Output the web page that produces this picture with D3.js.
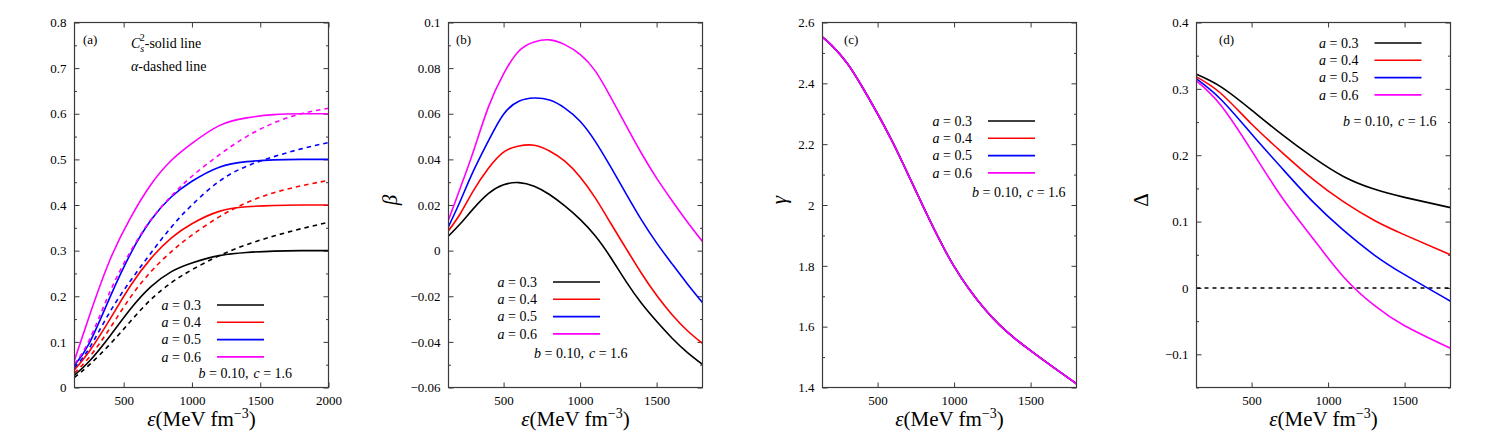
<!DOCTYPE html>
<html>
<head>
<meta charset="utf-8">
<script src="https://cdn.jsdelivr.net/npm/d3@7"></script>
<style>
  body { margin: 0; background: #fff; }
</style>
</head>
<body>
<div id="chart"></div>
<script>
// ---- data ----
const aValues = ['0.3', '0.4', '0.5', '0.6'];

// (a) sound speed squared (solid) and alpha (dashed)
const epsA = [140, 250, 400, 550, 700, 850, 1000, 1200, 1400, 1600, 1800, 2000];
const cs2_a03 = [0.027, 0.058, 0.113, 0.172, 0.221, 0.254, 0.273, 0.289, 0.296, 0.299, 0.300, 0.300];
const cs2_a04 = [0.039, 0.080, 0.150, 0.223, 0.283, 0.328, 0.359, 0.386, 0.396, 0.399, 0.400, 0.400];
const cs2_a05 = [0.049, 0.098, 0.198, 0.293, 0.367, 0.418, 0.452, 0.483, 0.495, 0.499, 0.500, 0.500];
const cs2_a06 = [0.060, 0.158, 0.280, 0.372, 0.445, 0.498, 0.535, 0.574, 0.591, 0.598, 0.600, 0.600];
const alpha_a03 = [0.022, 0.050, 0.095, 0.145, 0.193, 0.230, 0.258, 0.289, 0.313, 0.332, 0.348, 0.362];
const alpha_a04 = [0.032, 0.067, 0.130, 0.198, 0.254, 0.298, 0.334, 0.374, 0.405, 0.427, 0.442, 0.454];
const alpha_a05 = [0.044, 0.087, 0.166, 0.234, 0.295, 0.352, 0.400, 0.452, 0.485, 0.506, 0.523, 0.537];
const alpha_a06 = [0.052, 0.105, 0.210, 0.298, 0.368, 0.420, 0.463, 0.510, 0.550, 0.580, 0.600, 0.612];

// (b) beta
const epsB = [140, 220, 300, 400, 500, 600, 700, 800, 900, 1000, 1100, 1200, 1300, 1400, 1500, 1600, 1700, 1800];
const beta_a03 = [0.0064, 0.0120, 0.0182, 0.0250, 0.0289, 0.0298, 0.0282, 0.0246, 0.0196, 0.0137, 0.0064, -0.0030, -0.0135, -0.0230, -0.0310, -0.0383, -0.0446, -0.0499];
const beta_a04 = [0.0087, 0.0165, 0.0260, 0.0360, 0.0432, 0.0459, 0.0462, 0.0437, 0.0392, 0.0323, 0.0230, 0.0120, 0.0010, -0.0098, -0.0196, -0.0280, -0.0350, -0.0407];
const beta_a05 = [0.0105, 0.0222, 0.0345, 0.0480, 0.0598, 0.0655, 0.0669, 0.0660, 0.0625, 0.0567, 0.0478, 0.0367, 0.0250, 0.0136, 0.0034, -0.0057, -0.0145, -0.0228];
const beta_a06 = [0.0134, 0.0280, 0.0430, 0.0628, 0.0775, 0.0875, 0.0915, 0.0924, 0.0903, 0.0860, 0.0787, 0.0673, 0.0549, 0.0428, 0.0318, 0.0220, 0.0127, 0.0040];

// (c) gamma (the four curves coincide)
const epsC = [140, 200, 300, 400, 500, 600, 700, 800, 900, 1000, 1100, 1200, 1300, 1400, 1500, 1600, 1700, 1800];
const gamma_all = [2.552, 2.525, 2.467, 2.388, 2.300, 2.205, 2.100, 1.993, 1.890, 1.798, 1.722, 1.658, 1.604, 1.560, 1.521, 1.484, 1.448, 1.412];

// (d) Delta
const epsD = [140, 300, 500, 700, 900, 1100, 1300, 1500, 1800];
const delta_a03 = [0.322, 0.303, 0.268, 0.231, 0.197, 0.168, 0.149, 0.1365, 0.121];
const delta_a04 = [0.318, 0.293, 0.247, 0.204, 0.164, 0.130, 0.102, 0.080, 0.050];
const delta_a05 = [0.315, 0.284, 0.232, 0.180, 0.130, 0.087, 0.050, 0.020, -0.020];
const delta_a06 = [0.312, 0.275, 0.207, 0.136, 0.075, 0.017, -0.026, -0.057, -0.091];

// axis ticks
const xTicksA = [500, 1000, 1500, 2000];
const xTicksBCD = [500, 1000, 1500];
const yTicksA = [0, 0.1, 0.2, 0.3, 0.4, 0.5, 0.6, 0.7, 0.8];
const yTicksB = [-0.06, -0.04, -0.02, 0, 0.02, 0.04, 0.06, 0.08, 0.1];
const yTicksC = [1.4, 1.6, 1.8, 2, 2.2, 2.4, 2.6];
const yTicksD = [-0.1, 0, 0.1, 0.2, 0.3, 0.4];

// ---- layout ----
const W = 1495, H = 436;
const plotTop = 22.5, pw = 254, ph = 365;
const colors = ['#000000', '#ff0000', '#0000ff', '#ff00ff'];
const serif = '"Liberation Serif", "Times New Roman", Tinos, "DejaVu Serif", serif';

const svg = d3.select('#chart').append('svg')
    .attr('width', W)
    .attr('height', H)
    .style('font-family', serif);

const fmt = v => String(+v.toFixed(3)).replace('-', '\u2212');

const panels = [
    {
        id: 'a', left: 74.5, xDomain: [140, 2000], xTicks: xTicksA,
        yDomain: [0, 0.8], yTicks: yTicksA, yMinorStep: 0.05,
        series: [
            { xs: epsA, ys: cs2_a03, c: 0 }, { xs: epsA, ys: cs2_a04, c: 1 },
            { xs: epsA, ys: cs2_a05, c: 2 }, { xs: epsA, ys: cs2_a06, c: 3 },
            { xs: epsA, ys: alpha_a03, c: 0, dash: true }, { xs: epsA, ys: alpha_a04, c: 1, dash: true },
            { xs: epsA, ys: alpha_a05, c: 2, dash: true }, { xs: epsA, ys: alpha_a06, c: 3, dash: true }
        ],
        tag: { x: 8.5, y: 21.5 },
        legend: { x: 87, y: 282.5, bx: 124, by: 355 },
        ylabel: null
    },
    {
        id: 'b', left: 448.5, xDomain: [140, 1800], xTicks: xTicksBCD,
        yDomain: [-0.06, 0.1], yTicks: yTicksB, yMinorStep: 0.01,
        series: [
            { xs: epsB, ys: beta_a03, c: 0 }, { xs: epsB, ys: beta_a04, c: 1 },
            { xs: epsB, ys: beta_a05, c: 2 }, { xs: epsB, ys: beta_a06, c: 3 }
        ],
        tag: { x: 7.5, y: 21.5 },
        legend: { x: 49, y: 259.5, bx: 85.5, by: 335 },
        ylabel: { text: '\u03b2', italic: true, x: -58.5 }
    },
    {
        id: 'c', left: 822.5, xDomain: [140, 1800], xTicks: xTicksBCD,
        yDomain: [1.4, 2.6], yTicks: yTicksC, yMinorStep: 0.1,
        series: [
            { xs: epsC, ys: gamma_all, c: 0 }, { xs: epsC, ys: gamma_all, c: 1 },
            { xs: epsC, ys: gamma_all, c: 2 }, { xs: epsC, ys: gamma_all, c: 3 }
        ],
        tag: { x: 21.5, y: 21.5 },
        legend: { x: 110, y: 98.5, bx: 149.5, by: 174 },
        ylabel: { text: '\u03b3', italic: true, x: -43.5 }
    },
    {
        id: 'd', left: 1196.5, xDomain: [140, 1800], xTicks: xTicksBCD,
        yDomain: [-0.15, 0.4], yTicks: yTicksD, yMinorStep: 0.05,
        series: [
            { xs: epsD, ys: delta_a03, c: 0 }, { xs: epsD, ys: delta_a04, c: 1 },
            { xs: epsD, ys: delta_a05, c: 2 }, { xs: epsD, ys: delta_a06, c: 3 }
        ],
        tag: { x: 22.5, y: 21.5 },
        legend: { x: 122.5, y: 20.5, bx: 146.5, by: 103 },
        ylabel: { text: '\u0394', italic: false, x: -55.5 },
        zeroLine: true
    }
];

panels.forEach(p => {
    const g = svg.append('g').attr('transform', `translate(${p.left},${plotTop})`);
    const x = d3.scaleLinear().domain(p.xDomain).range([0, pw]);
    const y = d3.scaleLinear().domain(p.yDomain).range([ph, 0]);

    // minor y ticks between the majors
    const yMinor = d3.range(p.yDomain[0], p.yDomain[1] + 1e-9, p.yMinorStep)
        .filter(v => !p.yTicks.some(t => Math.abs(t - v) < 1e-9));

    // axes, ticks pointing inwards on all four sides
    const styleAxis = sel => {
        sel.attr('font-family', null).attr('font-size', null);
        sel.select('.domain').remove();
        sel.selectAll('line').attr('stroke', '#3a3a3a');
        sel.selectAll('text')
            .style('font-family', serif)
            .style('font-size', '13px')
            .attr('fill', '#000');
    };
    g.append('g').attr('transform', `translate(0,${ph})`)
        .call(d3.axisBottom(x).tickValues(p.xTicks).tickSize(-5).tickPadding(8).tickFormat(d3.format('d')))
        .call(styleAxis);
    g.append('g')
        .call(d3.axisTop(x).tickValues(p.xTicks).tickSize(-5).tickFormat(''))
        .call(styleAxis);
    g.append('g')
        .call(d3.axisLeft(y).tickValues(p.yTicks).tickSize(-5).tickPadding(8).tickFormat(fmt))
        .call(styleAxis);
    g.append('g').attr('transform', `translate(${pw},0)`)
        .call(d3.axisRight(y).tickValues(p.yTicks).tickSize(-5).tickFormat(''))
        .call(styleAxis);
    g.append('g')
        .call(d3.axisLeft(y).tickValues(yMinor).tickSize(-2.5).tickFormat(''))
        .call(styleAxis);
    g.append('g').attr('transform', `translate(${pw},0)`)
        .call(d3.axisRight(y).tickValues(yMinor).tickSize(-2.5).tickFormat(''))
        .call(styleAxis);

    // clip region
    g.append('clipPath').attr('id', 'clip-' + p.id)
        .append('rect').attr('width', pw).attr('height', ph);
    const plot = g.append('g').attr('clip-path', `url(#clip-${p.id})`);

    if (p.zeroLine) {
        plot.append('line')
            .attr('x1', x(p.xDomain[0])).attr('x2', x(p.xDomain[1]))
            .attr('y1', y(0)).attr('y2', y(0))
            .attr('stroke', '#000').attr('stroke-width', 1.5)
            .attr('stroke-dasharray', '4,4');
    }

    const line = d3.line()
        .x(d => x(d[0]))
        .y(d => y(d[1]))
        .curve(d3.curveNatural);

    p.series.forEach(s => {
        plot.append('path')
            .datum(s.xs.map((v, i) => [v, s.ys[i]]))
            .attr('d', line)
            .attr('fill', 'none')
            .attr('stroke', colors[s.c])
            .attr('stroke-width', 1.6)
            .attr('stroke-dasharray', s.dash ? '4.5,4' : null);
    });

    // frame
    g.append('rect')
        .attr('width', pw).attr('height', ph)
        .attr('fill', 'none')
        .attr('stroke', '#3a3a3a')
        .attr('stroke-width', 1.2);

    // panel tag
    g.append('text')
        .attr('x', p.tag.x).attr('y', p.tag.y)
        .style('font-size', '13px')
        .text(`(${p.id})`);

    // legend
    const lg = g.append('g').attr('transform', `translate(${p.legend.x},${p.legend.y})`);
    aValues.forEach((a, i) => {
        const row = lg.append('g').attr('transform', `translate(0,${i * 17.3})`);
        const t = row.append('text').attr('y', 4.8).style('font-size', '14px');
        t.append('tspan').attr('font-style', 'italic').text('a');
        t.append('tspan').text(' = ' + a);
        row.append('line')
            .attr('x1', 55.5).attr('x2', 102.5)
            .attr('stroke', colors[i]).attr('stroke-width', 1.6);
    });
    const bt = g.append('text')
        .attr('x', p.legend.bx).attr('y', p.legend.by)
        .style('font-size', '14px');
    bt.append('tspan').attr('font-style', 'italic').text('b');
    bt.append('tspan').text(' = 0.10,');
    bt.append('tspan').attr('dx', 5).attr('font-style', 'italic').text('c');
    bt.append('tspan').text(' = 1.6');

    // x label
    const xl = g.append('text')
        .attr('x', pw / 2).attr('y', 403.5)
        .attr('text-anchor', 'middle')
        .style('font-size', '21px');
    xl.append('tspan').attr('font-style', 'italic').text('\u03b5');
    xl.append('tspan').text('(MeV fm');
    xl.append('tspan').attr('dy', -8).style('font-size', '14px').text('\u22123');
    xl.append('tspan').attr('dy', 8).text(')');

    // y label
    if (p.ylabel) {
        g.append('text')
            .attr('transform', `translate(${p.ylabel.x},${ph / 2 - 5}) rotate(-90)`)
            .attr('text-anchor', 'middle')
            .attr('dy', '0.35em')
            .attr('font-style', p.ylabel.italic ? 'italic' : 'normal')
            .style('font-size', '21px')
            .text(p.ylabel.text);
    }

    // extra notes in panel (a)
    if (p.id === 'a') {
        const n1 = g.append('text').attr('x', 56.5).attr('y', 25.5).style('font-size', '14px');
        n1.append('tspan').attr('font-style', 'italic').text('C');
        n1.append('tspan').attr('font-style', 'italic').attr('dy', 4).style('font-size', '10px').text('s');
        n1.append('tspan').attr('dx', -4.5).attr('dy', -11).style('font-size', '10px').text('2');
        n1.append('tspan').attr('dy', 7).text('-solid line');
        const n2 = g.append('text').attr('x', 56.5).attr('y', 48.5).style('font-size', '14px');
        n2.append('tspan').attr('font-style', 'italic').text('\u03b1');
        n2.append('tspan').text('-dashed line');
    }
});
</script>
</body>
</html>
